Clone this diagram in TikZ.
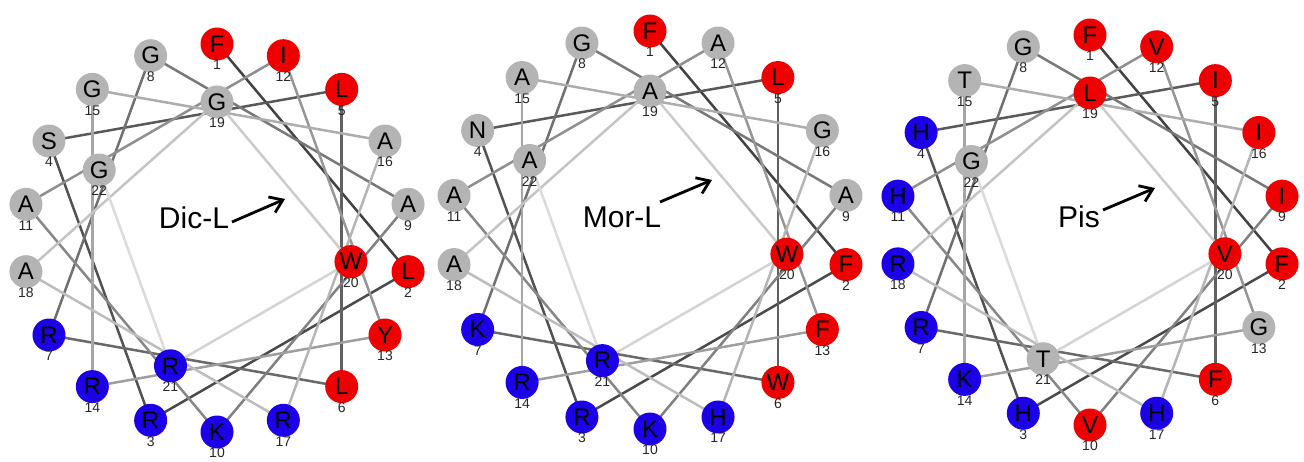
\documentclass[tikz,border=0pt]{standalone}
\usepackage{fontspec}
\setmainfont{Liberation Sans}
\usetikzlibrary{arrows.meta,backgrounds}
\definecolor{resred}{RGB}{238,0,0}
\definecolor{resblue}{RGB}{28,0,232}
\definecolor{resgray}{RGB}{180,180,180}
\tikzset{
  res/.style={circle, minimum size=33pt, inner sep=0pt, text=black, font=\fontsize{24}{24}\selectfont},
  resr/.style={res, fill=resred},
  resb/.style={res, fill=resblue},
  resg/.style={res, fill=resgray},
  idx/.style={font=\fontsize{14}{14}\selectfont, text=black!85, inner sep=0pt},
  conn/.style={line width=2.5pt},
  wheeltitle/.style={font=\fontsize{30}{30}\selectfont, inner sep=0pt},
  dirarrow/.style={line width=2.8pt, -{Straight Barb[length=12pt,width=17pt]}}
}
% #1 prefix, #2 cx, #3 cy, #4 outer radius, #5 inner radius, #6 residues
\newcommand\helwheel[6]{%
  \foreach \n/\aa/\cc in {#6} {
    \pgfmathsetmacro\th{90-100*(\n-1)}
    \pgfmathsetmacro\rad{\n<19 ? #4 : #5}
    \pgfmathsetmacro\xx{#2+\rad*cos(\th)}
    \pgfmathsetmacro\yy{#3-\rad*sin(\th)}
    \node[res\cc] (#1\n) at (\xx,\yy) {\aa};
    \node[idx] (#1l\n) at (\xx,{\yy+21}) {\n};
  }
  \begin{pgfonlayer}{background}
    \foreach \n [evaluate=\n as \m using {int(\n+1)}, evaluate=\n as \sh using {int(77-3*\n)}] in {1,...,21} {
      \draw[conn, draw=black!\sh] (#1\n.center) -- (#1\m.center);
    }
  \end{pgfonlayer}
}
\begin{document}
\begin{tikzpicture}[x=1pt,y=-1pt]
\useasboundingbox (0,0) rectangle (1304,461);

\helwheel{a}{217}{238}{194}{136}{1/F/r,2/L/r,3/R/b,4/S/g,5/L/r,6/L/r,7/R/b,8/G/g,9/A/g,10/K/b,11/A/g,12/I/r,13/Y/r,14/R/b,15/G/g,16/A/g,17/R/b,18/A/g,19/G/g,20/W/r,21/R/b,22/G/g}
\node[wheeltitle] (atitle) at (194,218) {Dic-L};
\coordinate (aas) at (232,222);
\coordinate (aae) at (285,199);
\draw[dirarrow] (aas) -- (aae);

\helwheel{b}{650}{230}{199}{139}{1/F/r,2/F/r,3/R/b,4/N/g,5/L/r,6/W/r,7/K/b,8/G/g,9/A/g,10/K/b,11/A/g,12/A/g,13/F/r,14/R/b,15/A/g,16/G/g,17/H/b,18/A/g,19/A/g,20/W/r,21/R/b,22/A/g}
\node[wheeltitle] (btitle) at (622,217) {Mor-L};
\coordinate (bas) at (660,202);
\coordinate (bae) at (712,180);
\draw[dirarrow] (bas) -- (bae);

\helwheel{c}{1090}{230}{195}{137}{1/F/r,2/F/r,3/H/b,4/H/b,5/I/r,6/F/r,7/R/b,8/G/g,9/I/r,10/V/r,11/H/b,12/V/r,13/G/g,14/K/b,15/T/g,16/I/r,17/H/b,18/R/b,19/L/r,20/V/r,21/T/g,22/G/g}
\node[wheeltitle] (ctitle) at (1079,217) {Pis};
\coordinate (cas) at (1103,210);
\coordinate (cae) at (1155,188);
\draw[dirarrow] (cas) -- (cae);
\end{tikzpicture}
\end{document}
